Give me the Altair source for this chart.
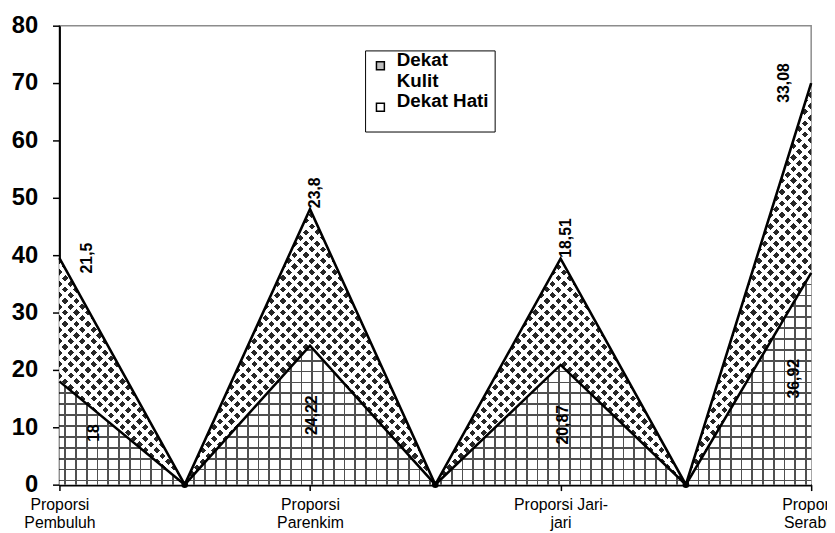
import json
import math
import pandas as pd
import altair as alt

# ---------------- data ----------------
categories = ["Proporsi Pembuluh", "", "Proporsi Parenkim", "", "Proporsi Jari-jari", "", "Proporsi Serabut"]
dekat_hati = [18, 0, 24.22, 0, 20.87, 0, 36.92]
dekat_kulit = [21.5, 0, 23.8, 0, 18.51, 0, 33.08]
series_names = ["Dekat Kulit", "Dekat Hati"]
legend_lines = [["Dekat", "Kulit"], ["Dekat Hati"]]
tick_values = [0, 2, 4, 6]
tick_labels = [["Proporsi", "Pembuluh"], ["Proporsi", "Parenkim"], ["Proporsi Jari-", "jari"], ["Proporsi", "Serabut"]]
y_ticks = [0, 10, 20, 30, 40, 50, 60, 70, 80]


def fmt(v):
    return f"{v:g}".replace(".", ",")


df = pd.DataFrame({
    "idx": list(range(len(categories))),
    "cat": categories,
    "hati": dekat_hati,
    "kulit": dekat_kulit,
})
df["total"] = df["hati"] + df["kulit"]
df["hati_lbl"] = [fmt(v) for v in dekat_hati]
df["kulit_lbl"] = [fmt(v) for v in dekat_kulit]

legend_df = pd.DataFrame({"series": series_names, "idx": [0, 0], "v": [0, 0]})

# ---------------- layout ----------------
PLOT_W, PLOT_H = 760, 464
Y_MAX = 80
FONT = "Liberation Sans"


# ---------------- pattern fills (striped gradients) ----------------
def stripe_stops(L, period, width, offset, line_c, gap_c):
    stops = [(0.0, gap_c)]
    k = math.floor((-width - offset) / period)
    while True:
        c = offset + k * period
        a, b = c - width / 2, c + width / 2
        if a >= L:
            break
        a, b = max(a, 0.0), min(b, L)
        if b > a:
            fa, fb = a / L, b / L
            stops += [(fa, gap_c), (fa, line_c), (fb, line_c), (fb, gap_c)]
        k += 1
    stops.append((1.0, gap_c))
    out, prev = [], 0.0
    for o, col in stops:
        o = max(prev, round(o, 6))
        prev = o
        out.append({"offset": o, "color": col})
    return out


def grad(stops, x1, y1, x2, y2):
    return {"gradient": "linear", "stops": stops, "x1": x1, "y1": y1, "x2": x2, "y2": y2}


CLEAR = "rgba(255,255,255,0)"
GRID_C = "#505050"

# lower area (grid pattern)
H_low = max(dekat_hati) / Y_MAX * PLOT_H
g_horiz = grad(stripe_stops(H_low, 11.0, 1.8, (H_low - 4.3) % 11.0, GRID_C, "#ffffff"), 0, 0, 0, 1)
g_vert = grad(stripe_stops(PLOT_W, 10.85, 1.8, 6.0, GRID_C, CLEAR), 0, 0, 1, 0)

# upper band (diamond pattern) : dark base + two white diagonal stripe sets
H_top = df["total"].max() / Y_MAX * PLOT_H
r = H_top / PLOT_W
kk = 1.02 * (1 + r) / (1 + r * r)
L_diag = PLOT_W * kk * (1 + r * r)
p, gap = 8.2, 4.6
g_diagA = grad(stripe_stops(L_diag, p * math.sqrt(2), (p - gap) * math.sqrt(2), 0.0, "#ffffff", CLEAR),
               0, 0, kk, kk * r)
g_diagB = grad(stripe_stops(L_diag, p * math.sqrt(2), (p - gap) * math.sqrt(2), 0.0, "#ffffff", CLEAR),
               0, 1, kk, 1 - kk * r)

# ---------------- scales / axes ----------------
x_scale = alt.Scale(domain=[0, 6], nice=False, zero=False)
y_scale = alt.Scale(domain=[0, Y_MAX], nice=False)

x_axis = alt.Axis(
    values=tick_values,
    labelExpr=f"{json.dumps(tick_labels)}[indexof({json.dumps(tick_values)}, datum.value)]",
    title=None, grid=False, labelFlush=False, labelOverlap=False, labelBound=False,
    tickSize=6, tickColor="black", tickWidth=1.5,
    domainColor="black", domainWidth=2.5,
    labelFont=FONT, labelFontSize=16, labelColor="black", labelLineHeight=18, labelPadding=6,
)
y_axis = alt.Axis(
    values=y_ticks, title=None, grid=False,
    tickSize=7, tickColor="black", tickWidth=1.5,
    domainColor="black", domainWidth=2,
    labelFont=FONT, labelFontSize=24, labelFontWeight="bold", labelColor="black", labelPadding=15,
)


def X(field="idx:Q"):
    return alt.X(field, scale=x_scale, axis=x_axis)


def Y(field):
    return alt.Y(field, scale=y_scale, axis=y_axis)


base = alt.Chart(df)

low_a = base.mark_area(fill=g_horiz, stroke=None).encode(x=X(), y=Y("hati:Q"))
low_b = base.mark_area(fill=g_vert, stroke=None).encode(x=X(), y=Y("hati:Q"))
top_a = base.mark_area(fill="#262626").encode(x=X(), y=Y("total:Q"), y2="hati:Q")
top_b = base.mark_area(fill=g_diagA).encode(x=X(), y=Y("total:Q"), y2="hati:Q")
top_c = base.mark_area(fill=g_diagB).encode(x=X(), y=Y("total:Q"), y2="hati:Q")

line_h = base.mark_line(color="black", strokeWidth=2.6).encode(x=X(), y=Y("hati:Q"))
line_t = base.mark_line(color="black", strokeWidth=2.6).encode(x=X(), y=Y("total:Q"))

dots = base.transform_filter("datum.total == 0").mark_point(
    filled=True, color="black", size=45, opacity=1
).encode(x=X(), y=Y("total:Q"))

txt_style = dict(angle=270, font=FONT, fontSize=16, fontWeight="bold", color="black")

top_inner = base.transform_filter("datum.total > 0 && datum.idx > 0 && datum.idx < 6").transform_calculate(
    xs="datum.idx + 0.04"
).mark_text(align="left", baseline="middle", dx=1, **txt_style).encode(
    x=X("xs:Q"), y=Y("total:Q"), text="kulit_lbl:N")

top_edge = base.transform_filter("datum.total > 0 && (datum.idx == 0 || datum.idx == 6)").transform_calculate(
    xs="datum.idx + (datum.idx == 0 ? 0.22 : -0.22)"
).mark_text(align="center", baseline="middle", **txt_style).encode(
    x=X("xs:Q"), y=Y("total:Q"), text="kulit_lbl:N")

low_txt = base.transform_filter("datum.hati > 0").transform_calculate(
    xs="datum.idx + (datum.idx == 0 ? 0.28 : datum.idx == 6 ? -0.14 : 0.02)",
    ym="datum.hati / 2",
).mark_text(align="center", baseline="middle", **txt_style).encode(
    x=X("xs:Q"), y=Y("ym:Q"), text="hati_lbl:N")

legend_expr = f"{json.dumps(legend_lines)}[indexof({json.dumps(series_names)}, datum.label)]"
leg = alt.Chart(legend_df).mark_point(shape="square", filled=True, opacity=0).encode(
    x=X(), y=Y("v:Q"),
    color=alt.Color("series:N",
                    scale=alt.Scale(domain=series_names, range=["#bdbdbd", "#ffffff"]),
                    legend=alt.Legend(
                        orient="none", legendX=309, legendY=25, title=" ",
                        titleOrient="bottom", titleFontSize=11, titlePadding=0,
                        labelExpr=legend_expr,
                        labelFont=FONT, labelFontSize=19, labelFontWeight="bold", labelColor="black",
                        symbolType="square", symbolSize=64, symbolOpacity=1,
                        symbolStrokeColor="black", symbolStrokeWidth=1.5,
                        strokeColor="black", fillColor="white", padding=6,
                        labelOffset=7, rowPadding=1, labelBaseline="alphabetic",
                    )),
)

chart = alt.layer(
    low_a, low_b, top_a, top_b, top_c, line_h, line_t, dots, top_inner, top_edge, low_txt, leg
).properties(
    width=PLOT_W, height=PLOT_H,
    padding={"left": 52, "top": 15, "right": 16, "bottom": 46},
    autosize=alt.AutoSizeParams(type="none"),
    background="white",
).configure_view(stroke="#8c8c8c", strokeWidth=1.5)

chart.save("out.html", embed_options={"renderer": "svg", "actions": False})
